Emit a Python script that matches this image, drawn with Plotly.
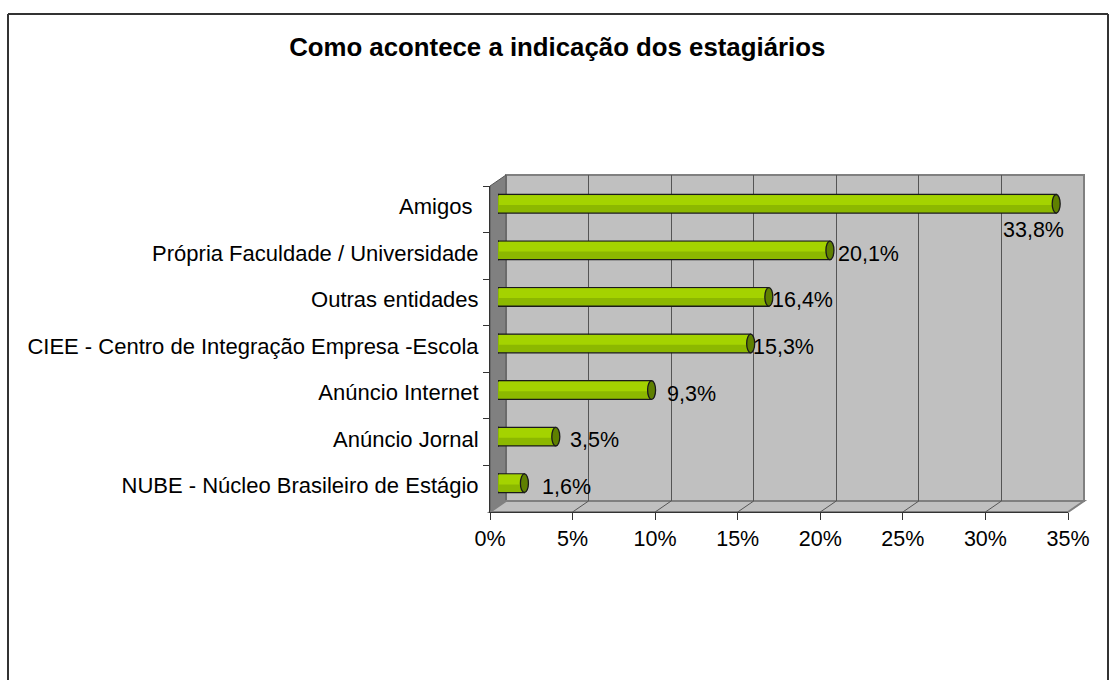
import plotly.graph_objects as go

W, H = 1110, 680

categories = [
    "Amigos ",
    "Própria Faculdade / Universidade",
    "Outras entidades",
    "CIEE - Centro de Integração Empresa -Escola",
    "Anúncio Internet",
    "Anúncio Jornal",
    "NUBE - Núcleo Brasileiro de Estágio",
]
values = [33.8, 20.1, 16.4, 15.3, 9.3, 3.5, 1.6]
value_labels = ["33,8%", "20,1%", "16,4%", "15,3%", "9,3%", "3,5%", "1,6%"]
x_ticks = [0, 5, 10, 15, 20, 25, 30, 35]

# label nudges (pixels) to mimic the original placement
label_dx = [-47, 14, 9, 8, 21, 20, 24]
label_dy = [-21, 2, 2, 2, 2, 2, 2]

FONT = "Arial, Liberation Sans, sans-serif"
WALL = "#C0C0C0"
SIDE = "#808080"
GRID = "#555555"
GREEN = "#8CB800"
GREEN_HI = "#A4D300"
GREEN_END = "#5F8000"

# 3D geometry in pixels
FX0, FX1, FY0, FY1 = 490, 1068, 186, 512      # front plane
DX, DY = 16, 11                                # depth offset
MX, MY = 8, 5.5                                # bar plane offset


def px(x):
    return x / W


def py(y):
    return 1 - y / H


fig = go.Figure()

n = len(categories)
fig.add_trace(go.Bar(
    y=categories, x=values, orientation="h",
    xaxis="x3", yaxis="y3", width=0.4,
    marker=dict(color=GREEN, line=dict(color="#1a1a1a", width=1.3)),
    hoverinfo="x+y",
))
fig.add_trace(go.Bar(
    y=categories, x=values, orientation="h",
    xaxis="x3", yaxis="y3", width=0.21, offset=-0.185,
    marker=dict(color=GREEN_HI, line=dict(width=0)),
    hoverinfo="skip",
))

# invisible traces so the front and wall axes are drawn
fig.add_trace(go.Scatter(x=[None] * n, y=categories, xaxis="x", yaxis="y", showlegend=False,
                         hoverinfo="skip"))
fig.add_trace(go.Scatter(x=[None], y=[None], xaxis="x2", yaxis="y2", showlegend=False,
                         hoverinfo="skip"))

shapes = []
# back wall
shapes.append(dict(type="rect", xref="paper", yref="paper",
                   x0=px(FX0 + DX), x1=px(FX1 + DX), y0=py(FY1 - DY), y1=py(FY0 - DY),
                   fillcolor=WALL, line=dict(color=SIDE, width=2), layer="below"))
# side wall
shapes.append(dict(type="path", xref="paper", yref="paper",
                   path=f"M {px(FX0)},{py(FY0)} L {px(FX0+DX)},{py(FY0-DY)} L {px(FX0+DX)},{py(FY1-DY)} L {px(FX0)},{py(FY1)} Z",
                   fillcolor=SIDE, line=dict(color="#555555", width=1), layer="below"))
# floor
shapes.append(dict(type="path", xref="paper", yref="paper",
                   path=f"M {px(FX0)},{py(FY1)} L {px(FX0+DX)},{py(FY1-DY)} L {px(FX1+DX)},{py(FY1-DY)} L {px(FX1)},{py(FY1)} Z",
                   fillcolor=WALL, line=dict(color=SIDE, width=2), layer="below"))
# floor diagonals under each gridline
for t in x_ticks[1:-1]:
    fx = FX0 + (FX1 - FX0) * t / 35
    shapes.append(dict(type="line", xref="paper", yref="paper",
                       x0=px(fx), y0=py(FY1), x1=px(fx + DX), y1=py(FY1 - DY),
                       line=dict(color=GRID, width=1), layer="below"))

# cylinder ends
for i, v in enumerate(values):
    shapes.append(dict(type="path", xref="x3", yref="y3",
                       xsizemode="pixel", ysizemode="pixel", xanchor=0, yanchor=i,
                       path="M 1,-9.3 C -5,-9.3 -5,9.3 1,9.3",
                       fillcolor=GREEN, line=dict(color="#1a1a1a", width=1.3), layer="above"))
    shapes.append(dict(type="circle", xref="x3", yref="y3",
                       xsizemode="pixel", ysizemode="pixel", xanchor=v, yanchor=i,
                       x0=-4, x1=4, y0=-9.3, y1=9.3,
                       fillcolor=GREEN_END, line=dict(color="#1a1a1a", width=1.3), layer="above"))

# border of the chart area
BORDER = dict(color="#333333", width=2)
shapes.append(dict(type="line", xref="paper", yref="paper", x0=px(8), x1=px(8), y0=0, y1=py(14), line=BORDER))
shapes.append(dict(type="line", xref="paper", yref="paper", x0=px(8), x1=px(1108), y0=py(14), y1=py(14), line=BORDER))
shapes.append(dict(type="line", xref="paper", yref="paper", x0=px(1108), x1=px(1108), y0=0, y1=py(14), line=BORDER))

annotations = []
for c, lab, v, dx, dy in zip(categories, value_labels, values, label_dx, label_dy):
    annotations.append(dict(x=v, y=c, xref="x", yref="y", text=lab, showarrow=False,
                            xanchor="left", yanchor="middle", xshift=dx, yshift=dy,
                            font=dict(family=FONT, size=21.5, color="#000000")))

fig.update_layout(
    template="none",
    width=W, height=H,
    margin=dict(l=0, r=0, t=0, b=0, autoexpand=False),
    paper_bgcolor="white", plot_bgcolor="rgba(0,0,0,0)",
    showlegend=False, barmode="overlay",
    font=dict(family=FONT, size=21.5, color="#000000"),
    title=dict(text="<b>Como acontece a indicação dos estagiários</b>",
               x=0.502, xanchor="center", y=py(47), yanchor="middle",
               font=dict(family=FONT, size=25.8, color="#000000")),
    xaxis=dict(domain=[px(FX0), px(FX1)], range=[0, 35], anchor="y", automargin=False,
               tickvals=x_ticks, ticktext=[f"{t}%" for t in x_ticks],
               showgrid=False, zeroline=False, showline=True, linecolor="#333333", linewidth=1,
               ticks="outside", ticklen=7, tickcolor="#333333",
               tickfont=dict(family=FONT, size=21.5), fixedrange=True),
    yaxis=dict(domain=[py(FY1), py(FY0)], type="category", categoryarray=categories,
               categoryorder="array", range=[n - 0.5, -0.5], anchor="x", automargin=False,
               showgrid=False, zeroline=False, showline=True, linecolor="#333333", linewidth=1,
               ticks="outside", ticklen=6, tickcolor="#333333", tickson="boundaries",
               ticklabelstandoff=6, ticklabelshift=3,
               tickfont=dict(family=FONT, size=22), fixedrange=True),
    xaxis2=dict(domain=[px(FX0 + DX), px(FX1 + DX)], range=[0, 35], anchor="y2", automargin=False,
                tickvals=x_ticks, showticklabels=False, showgrid=True, gridcolor=GRID, ticks="",
                gridwidth=1, zeroline=False, showline=False, fixedrange=True),
    yaxis2=dict(domain=[py(FY1 - DY), py(FY0 - DY)], range=[0, 1], anchor="x2",
                visible=False, fixedrange=True),
    xaxis3=dict(domain=[px(FX0 + MX), px(FX1 + MX)], range=[0, 35], anchor="y3",
                visible=False, fixedrange=True),
    yaxis3=dict(domain=[py(FY1 - MY), py(FY0 - MY)], type="category", categoryarray=categories,
                categoryorder="array", range=[n - 0.5, -0.5], anchor="x3",
                visible=False, fixedrange=True),
    shapes=shapes,
    annotations=annotations,
)

fig.write_html(
    "out.html",
    config={"displayModeBar": False},
    post_script="document.body.style.margin='0';document.body.style.overflow='hidden';",
)
